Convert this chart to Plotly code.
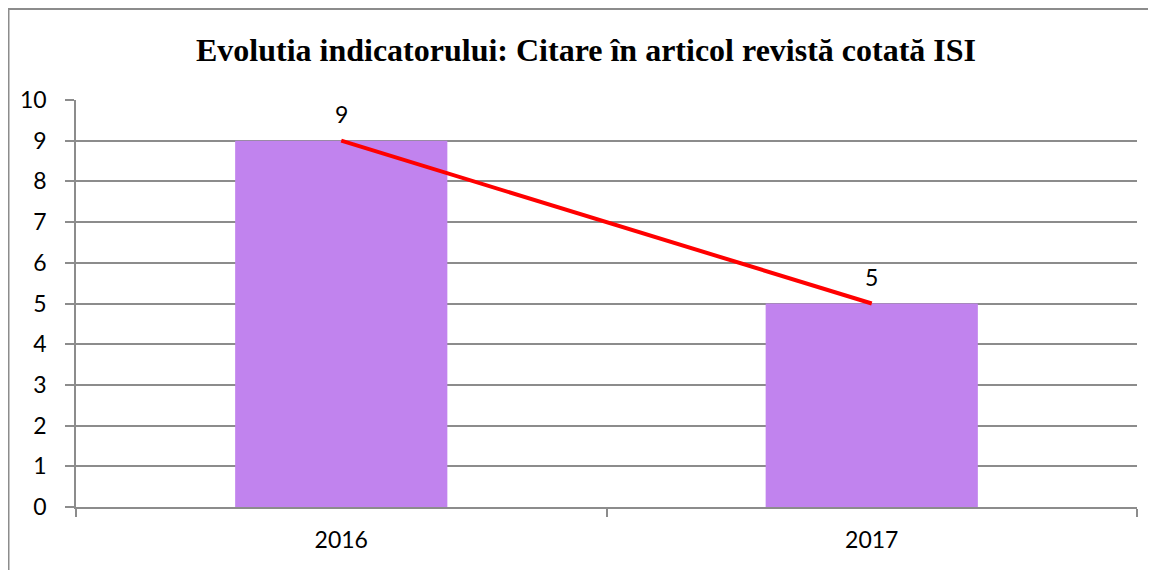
import plotly.graph_objects as go

years = ["2016", "2017"]
values = [9, 5]
title_text = "Evolutia indicatorului: Citare în articol revistă cotată ISI"

bar_color = "#C183EE"
line_color = "#FF0000"
grid_color = "#8C8C8C"
font_family = "Lato, 'Open Sans', sans-serif"

# plot area in figure pixels (page is offset by 8px body margin)
L, R, T, B = 68, 27, 92, 71
W, H = 1156, 570
pw, ph = W - L - R, H - T - B

fig = go.Figure()
fig.add_trace(go.Bar(x=years, y=values, marker=dict(color=bar_color, line=dict(width=0)),
                     width=0.4, showlegend=False, hoverinfo="skip"))
fig.add_trace(go.Scatter(x=years, y=values, mode="lines", line=dict(color=line_color, width=4),
                         showlegend=False, hoverinfo="skip"))

for i, v in enumerate(values):
    fig.add_annotation(x=i, y=v, text=str(v), showarrow=False, yshift=27,
                       font=dict(family=font_family, size=23, color="black"))

fig.add_shape(type="rect", xref="paper", yref="paper",
              x0=(0.5 - L) / pw, x1=(1142 - L) / pw,
              y0=-(620 - (T + ph)) / ph, y1=1 + (T - 1) / ph,
              line=dict(color="#8C8C8C", width=2), fillcolor="rgba(0,0,0,0)", layer="below")

fig.update_layout(
    width=W, height=H,
    margin=dict(l=L, r=R, t=T, b=B),
    paper_bgcolor="white", plot_bgcolor="white",
    title=dict(text="<b>" + title_text + "</b>", x=0.5, xref="container", xanchor="center",
               y=1 - 42 / H, yanchor="middle",
               font=dict(family="'Liberation Serif', 'Times New Roman', serif", size=32, color="black")),
)
fig.update_xaxes(type="category", tickson="boundaries", ticks="outside", ticklen=8,
                 tickcolor=grid_color, tickwidth=1.5, showline=True, linecolor=grid_color, linewidth=1.5,
                 showgrid=False, tickfont=dict(family=font_family, size=23, color="black"),
                 ticklabelstandoff=12, range=[-0.5, 1.5])
fig.update_yaxes(range=[0, 10], dtick=1, ticks="outside", ticklen=9, tickcolor=grid_color, tickwidth=1.5,
                 showline=True, linecolor=grid_color, linewidth=1.5, showgrid=True, gridcolor=grid_color,
                 gridwidth=1.5, zeroline=False, tickfont=dict(family=font_family, size=23, color="black"),
                 ticklabelstandoff=14)

fig.write_html("out.html")
